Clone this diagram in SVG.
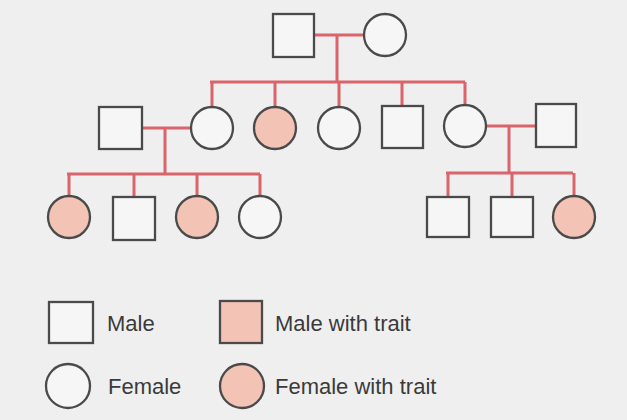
<svg xmlns="http://www.w3.org/2000/svg" width="627" height="420" viewBox="0 0 627 420">
<style>
.m{fill:#f7f6f6;stroke:#4a4a4a;stroke-width:2.3}
.ma{fill:#f3c3b6;stroke:#4a4a4a;stroke-width:2.3}
.f{fill:#f7f6f6;stroke:#4a4a4a;stroke-width:2.3}
.fa{fill:#f3c3b6;stroke:#4a4a4a;stroke-width:2.3}
.l{stroke:#d9656a;stroke-width:3;fill:none}
.t{font-family:"Liberation Sans",Arial,sans-serif;font-size:22px;fill:#3a3a3a}
</style>
<rect width="627" height="420" fill="#efefef"/>
<g id="connectors">
<path class="l" d="M314 35H364M337 35V82M210 82H465M212 82V107M275 82V107M339 82V107M402 82V106M465 82V105"/>
<path class="l" d="M142 128H191M165 128V174M67 174H260M69 174V196M134 174V197M197 174V196M260 174V196"/>
<path class="l" d="M486 126H536M509 126V173M446 173H573M448 173V197M512 173V197M574 173V196"/>
</g>
<g id="g1-father"><rect class="m" x="273" y="14" width="41" height="43"/></g>
<g id="g1-mother"><circle class="f" cx="385" cy="35" r="21"/></g>
<g id="g2-spouse-left"><rect class="m" x="99" y="107" width="43" height="42"/></g>
<g id="g2-daughter1"><circle class="f" cx="212" cy="128" r="21"/></g>
<g id="g2-daughter2"><circle class="fa" cx="275" cy="128" r="21"/></g>
<g id="g2-daughter3"><circle class="f" cx="339" cy="128" r="21"/></g>
<g id="g2-son"><rect class="m" x="382" y="106" width="41" height="42"/></g>
<g id="g2-daughter4"><circle class="f" cx="465" cy="126" r="21"/></g>
<g id="g2-spouse-right"><rect class="m" x="536" y="104" width="40" height="43"/></g>
<g id="g3-l1"><circle class="fa" cx="69" cy="217" r="21"/></g>
<g id="g3-l2"><rect class="m" x="113" y="197" width="42" height="43"/></g>
<g id="g3-l3"><circle class="fa" cx="197" cy="217" r="21"/></g>
<g id="g3-l4"><circle class="f" cx="260" cy="217" r="21"/></g>
<g id="g3-r1"><rect class="m" x="427" y="197" width="42" height="40"/></g>
<g id="g3-r2"><rect class="m" x="491" y="197" width="42" height="40"/></g>
<g id="g3-r3"><circle class="fa" cx="574" cy="217" r="21"/></g>
<g id="legend">
<rect class="m" x="49" y="302" width="44" height="41"/>
<text class="t" x="107" y="331">Male</text>
<rect class="ma" x="220" y="301" width="42" height="42"/>
<text class="t" x="275" y="331">Male with trait</text>
<circle class="f" cx="68" cy="386" r="22"/>
<text class="t" x="108" y="394">Female</text>
<circle class="fa" cx="242" cy="386" r="22"/>
<text class="t" x="275" y="394">Female with trait</text>
</g>
</svg>
